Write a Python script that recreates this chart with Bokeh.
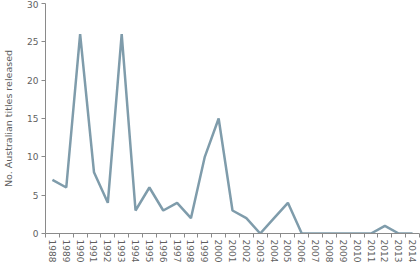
from bokeh.plotting import figure
from bokeh.models import FixedTicker, Range1d
from bokeh.embed import file_html
from bokeh.resources import INLINE

years = list(range(1988, 2015))
titles = [7, 6, 26, 8, 4, 26, 3, 6, 3, 4, 2, 10, 15, 3, 2, 0, 2, 4, 0, 0, 0, 0, 0, 0, 1, 0, 0]
y_ticks = [0, 5, 10, 15, 20, 25, 30]

FONT = "DejaVu Sans"
TEXT = "#5f5f5f"
AXIS = "#8a8a8a"

p = figure(width=420, height=265, output_backend="svg", toolbar_location=None,
           x_range=Range1d(years[0] - 0.5, years[-1] + 0.5), y_range=Range1d(0, 30),
           min_border_left=42, min_border_right=1, min_border_top=3, min_border_bottom=30)
p.outline_line_color = None
p.xgrid.visible = False
p.ygrid.visible = False
p.background_fill_color = "white"
p.border_fill_color = "white"

p.line(years, titles, line_color="#7f9cab", line_width=2.5)

xa = p.xaxis[0]
xa.ticker = FixedTicker(ticks=years, minor_ticks=[y - 0.5 for y in years] + [years[-1] + 0.5])
xa.major_tick_out = 0
xa.major_tick_in = 0
xa.minor_tick_out = 4
xa.minor_tick_in = 0
xa.minor_tick_line_color = AXIS
xa.axis_line_color = AXIS
xa.major_label_orientation = "vertical"
xa.major_label_text_font = FONT
xa.major_label_text_font_size = "9px"
xa.major_label_text_color = TEXT
xa.major_label_standoff = 2

ya = p.yaxis[0]
ya.ticker = FixedTicker(ticks=y_ticks, minor_ticks=[])
ya.major_tick_out = 4
ya.major_tick_in = 0
ya.major_tick_line_color = AXIS
ya.axis_line_color = AXIS
ya.major_label_text_font = FONT
ya.major_label_text_font_size = "9px"
ya.major_label_text_color = TEXT
ya.major_label_standoff = 3
ya.axis_label = "No. Australian titles released"
ya.axis_label_text_font = FONT
ya.axis_label_text_font_size = "9.5px"
ya.axis_label_text_font_style = "normal"
ya.axis_label_text_color = TEXT
ya.axis_label_standoff = 10

open("out.html", "w").write(file_html(p, INLINE))
